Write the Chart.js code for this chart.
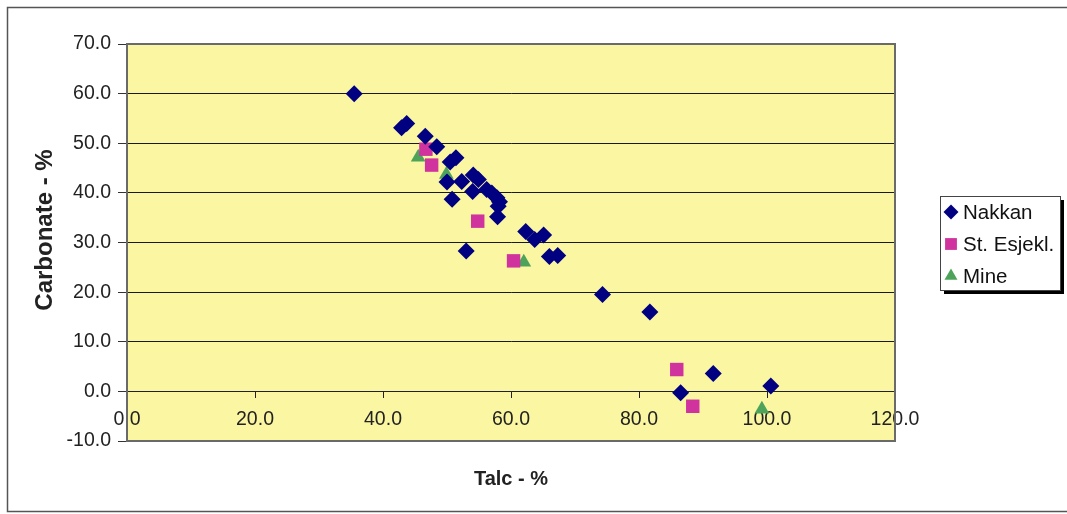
<!DOCTYPE html>
<html>
<head>
<meta charset="utf-8">
<title>Talc vs Carbonate</title>
<script src="https://cdn.jsdelivr.net/npm/chart.js"></script>
<style>
  html, body { margin: 0; padding: 0; background: #fff; }
  canvas { display: block; }
</style>
</head>
<body>
<canvas id="chart" width="1067" height="514"></canvas>
<script>
// Talc (%) against carbonate (%) for each sample group
const nakkanTalc = [35.5, 42.9, 43.7, 46.6, 48.4, 50.5, 51.4, 50.0, 52.3, 54.1, 54.9, 54.0, 56.2, 57.0, 57.8,
  58.2, 58.0, 50.8, 57.9, 62.3, 63.7, 65.1, 53.0, 66.0, 67.3, 74.3, 81.7, 91.6, 86.5, 100.6];
const nakkanCarbonate = [60.0, 53.1, 54.0, 51.4, 49.3, 46.2, 47.1, 42.2, 42.3, 43.6, 42.7, 40.3, 40.7, 40.0, 39.0,
  38.2, 37.3, 38.7, 35.2, 32.2, 30.6, 31.5, 28.3, 27.2, 27.4, 19.5, 16.0, 3.6, -0.3, 1.1];

const esjeklTalc = [46.7, 47.6, 54.8, 60.4, 85.9, 88.4];
const esjeklCarbonate = [48.8, 45.6, 34.3, 26.3, 4.4, -3.0];

const mineTalc = [45.5, 49.9, 62.0, 99.2];
const mineCarbonate = [47.2, 43.7, 26.0, -3.6];

const seriesNames = ["Nakkan", "St. Esjekl.", "Mine"];

const xTitle = "Talc - %";
const yTitle = "Carbonate - %";

const FONT = "'Liberation Sans', Arial, sans-serif";

const toPoints = (xs, ys) => xs.map((x, i) => ({ x: x, y: ys[i] }));

// Yellow plot area, outer frame, plot border and the vertical axis title
const frame = {
  id: "frame",
  beforeDraw(chart) {
    const { ctx, chartArea: a } = chart;
    ctx.save();
    ctx.fillStyle = "#fff";
    ctx.fillRect(0, 0, chart.width, chart.height);
    ctx.fillStyle = "#faf6a2";
    ctx.fillRect(a.left, a.top, a.right - a.left, a.bottom - a.top);
    ctx.strokeStyle = "#555";
    ctx.lineWidth = 1.5;
    ctx.strokeRect(7.5, 7.5, chart.width + 10, chart.height - 10);

    // the title sits a little above the middle of the axis
    ctx.translate(45, 230);
    ctx.rotate(-Math.PI / 2);
    ctx.fillStyle = "#222";
    ctx.font = "bold 24px " + FONT;
    ctx.textAlign = "center";
    ctx.textBaseline = "middle";
    ctx.fillText(yTitle, 0, 0);
    ctx.restore();
  },
  beforeDatasetsDraw(chart) {
    const { ctx, chartArea: a } = chart;
    ctx.save();
    ctx.strokeStyle = "#6a6a6a";
    ctx.lineWidth = 2;
    ctx.strokeRect(a.left, a.top, a.right - a.left, a.bottom - a.top);
    ctx.restore();
  }
};

// Boxed legend with a drop shadow, to the right of the plot
const boxLegend = {
  id: "boxLegend",
  afterDraw(chart) {
    const { ctx } = chart;
    const x = 940, y = 196, w = 120, h = 94;
    ctx.save();
    ctx.fillStyle = "#000";
    ctx.fillRect(x + 4, y + 4, w, h);
    ctx.fillStyle = "#fff";
    ctx.fillRect(x, y, w, h);
    ctx.strokeStyle = "#444";
    ctx.lineWidth = 1;
    ctx.strokeRect(x + 0.5, y + 0.5, w, h);
    chart.data.datasets.forEach((ds, i) => {
      const cy = y + 16 + i * 32;
      ctx.fillStyle = ds.backgroundColor;
      ctx.strokeStyle = ds.borderColor;
      Chart.helpers.drawPoint(ctx, {
        pointStyle: ds.pointStyle,
        radius: ds.pointRadius * 0.88,
        rotation: 0,
        borderWidth: 0
      }, x + 11, cy);
      ctx.fillStyle = "#111";
      ctx.font = "20.5px " + FONT;
      ctx.textBaseline = "middle";
      ctx.textAlign = "left";
      ctx.fillText(ds.label, x + 23, cy + 1);
    });
    ctx.restore();
  }
};

new Chart(document.getElementById("chart"), {
  type: "scatter",
  data: {
    datasets: [
      {
        label: seriesNames[0],
        data: toPoints(nakkanTalc, nakkanCarbonate),
        pointStyle: "rectRot",
        pointRadius: 8.5,
        backgroundColor: "#000080",
        borderColor: "#000080",
        borderWidth: 0
      },
      {
        label: seriesNames[1],
        data: toPoints(esjeklTalc, esjeklCarbonate),
        pointStyle: "rect",
        pointRadius: 9.5,
        backgroundColor: "#d0339e",
        borderColor: "#d0339e",
        borderWidth: 0
      },
      {
        label: seriesNames[2],
        data: toPoints(mineTalc, mineCarbonate),
        pointStyle: "triangle",
        pointRadius: 8.5,
        backgroundColor: "#4ea35a",
        borderColor: "#4ea35a",
        borderWidth: 0
      }
    ]
  },
  options: {
    responsive: false,
    animation: false,
    layout: { padding: { left: 10, top: 44, right: 172, bottom: 73 } },
    plugins: {
      legend: { display: false },
      tooltip: { enabled: false }
    },
    scales: {
      x: {
        type: "linear",
        min: 0,
        max: 120,
        position: { y: 0 },
        afterFit: (scale) => { scale.height = 100; },
        ticks: {
          stepSize: 20,
          maxRotation: 0,
          padding: 11,
          color: "#222",
          font: { family: FONT, size: 19.5 },
          callback: (v) => v.toFixed(1)
        },
        grid: { drawOnChartArea: false, drawTicks: true, tickLength: 6, tickColor: "#222" },
        border: { display: true, color: "#222", width: 1 },
        title: {
          display: true,
          text: xTitle,
          color: "#222",
          padding: { top: 4, bottom: 0 },
          font: { family: FONT, size: 20, weight: "bold" }
        }
      },
      y: {
        type: "linear",
        min: -10,
        max: 70,
        afterFit: (scale) => { scale.width = 117; },
        ticks: {
          stepSize: 10,
          padding: 7,
          color: "#222",
          font: { family: FONT, size: 19.5 },
          callback: (v) => v.toFixed(1)
        },
        grid: { color: "#1a1a1a", lineWidth: 1, drawTicks: true, tickLength: 9, tickColor: "#333" },
        border: { display: true, color: "#555", width: 1.5 },
        title: { display: false }
      }
    }
  },
  plugins: [frame, boxLegend]
});
</script>
</body>
</html>
